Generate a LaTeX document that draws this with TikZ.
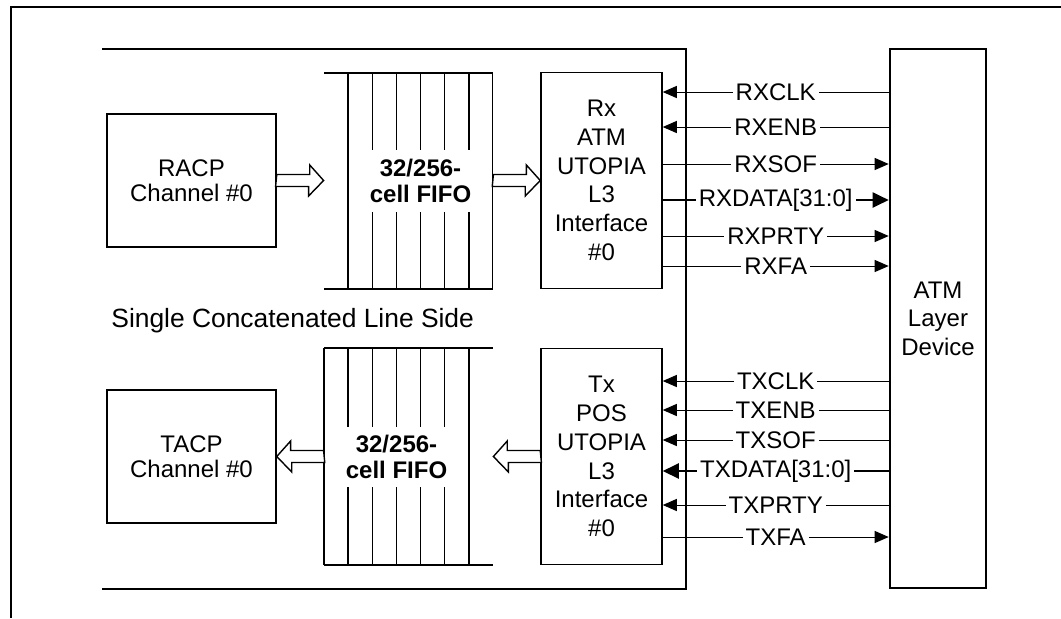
\documentclass[tikz,border=0pt]{standalone}
\usepackage{fontspec}
\setmainfont{Liberation Sans}
\usetikzlibrary{arrows.meta}

\tikzset{
  blk/.style={draw,line width=0.75pt,minimum width=84.5pt,minimum height=66.5pt,inner sep=0pt,align=center,font=\fontsize{12}{12.5}\selectfont},
  iface/.style={draw,line width=0.75pt,minimum width=60.5pt,minimum height=108pt,inner sep=0pt,align=center,font=\fontsize{12}{14.35}\selectfont},
  fifo/.style={minimum width=84.5pt,minimum height=108pt,inner sep=0pt},
  fifotxt/.style={inner sep=0pt,align=center,font=\bfseries\fontsize{12}{13.3}\selectfont},
  fifoline/.style={line width=0.7pt},
  blockarrow/.style={draw,fill=white,line width=0.7pt,line join=miter},
  sig/.style={line width=0.5pt,-{Triangle[length=7pt,width=6pt]}},
  bus/.style={line width=1pt,-{Triangle[length=8pt,width=7.5pt]}},
  lbl/.style={fill=white,inner sep=1.5pt,font=\fontsize{12}{14}\selectfont}
}

\begin{document}
\begin{tikzpicture}[x=0.5pt,y=-0.5pt,line cap=butt]
\useasboundingbox (0,0) rectangle (1061,618);
\draw[line width=1pt] (11,618) -- (11,7) -- (1061,7);
\draw[line width=1.3pt] (102,49) -- (686,49) -- (686,589) -- (102,589);

\node[blk] (racp) at (191.5,180.5) {RACP\\Channel \#0};
\node[blk] (tacp) at (191.5,456.5) {TACP\\Channel \#0};
\node[fifo] (fifoA) at (408.5,180.5) {};
\node[fifo] (fifoB) at (408.5,456.5) {};
\node[iface] (rxif) at (601.5,180.5) {Rx\\ATM\\UTOPIA\\L3\\Interface\\\#0};
\node[iface] (txif) at (601.5,456.5) {Tx\\POS\\UTOPIA\\L3\\Interface\\\#0};
\node[draw,line width=1.3pt,minimum width=48pt,minimum height=269.5pt,inner sep=0pt,align=center,font=\fontsize{12}{14.25}\selectfont] (atm) at (938,318.5) {ATM\\Layer\\Device};
\node[anchor=west,inner sep=0pt,font=\fontsize{13.2}{15}\selectfont] (side) at (111,321) {Single Concatenated Line Side};

% receive FIFO
\draw[fifoline] (324,73) -- (493,73) (324,289) -- (493,289);
\draw[fifoline] (348.1,73) -- (348.1,289) (492.7,73) -- (492.7,289);
\foreach \x in {372.3,396.4,420.6,444.7,468.9}
  \draw[fifoline] (\x,73) -- (\x,150) (\x,212) -- (\x,289);
\node[fifotxt] (fifoAtxt) at (420.5,181) {32/256-\\cell FIFO};

% transmit FIFO
\draw[fifoline] (324,348) -- (493,348) (324,565) -- (493,565);
\draw[fifoline] (324,348) -- (324,565) (468.9,348) -- (468.9,565);
\foreach \x in {348.1,372.3,396.4,420.6,444.7}
  \draw[fifoline] (\x,348) -- (\x,427) (\x,487) -- (\x,565);
\node[fifotxt] (fifoBtxt) at (396.5,457) {32/256-\\cell FIFO};

% block arrows
\draw[blockarrow] (racp.east) ++(0,-6) -- ++(33,0) -- ++(0,-9.5) -- (fifoA.west) -- ++(-15,15.5) -- ++(0,-9.5) -- ++(-33,0) -- cycle;
\draw[blockarrow] (fifoA.east) ++(0,-6) -- ++(33,0) -- ++(0,-9.5) -- (rxif.west) -- ++(-15,15.5) -- ++(0,-9.5) -- ++(-33,0) -- cycle;
\draw[blockarrow] (txif.west) ++(0,-6) -- ++(-33,0) -- ++(0,-9.5) -- (fifoB.east) -- ++(15,15.5) -- ++(0,-9.5) -- ++(33,0) -- cycle;
\draw[blockarrow] (fifoB.west) ++(0,-6) -- ++(-33,0) -- ++(0,-9.5) -- (tacp.east) -- ++(15,15.5) -- ++(0,-9.5) -- ++(33,0) -- cycle;

% receive signals
\draw[sig] (atm.west |- 0,92) -- (rxif.east |- 0,92) node[lbl,midway]{RXCLK};
\draw[sig] (atm.west |- 0,127) -- (rxif.east |- 0,127) node[lbl,midway]{RXENB};
\draw[sig] (rxif.east |- 0,164) -- (atm.west |- 0,164) node[lbl,midway]{RXSOF};
\draw[bus] (rxif.east |- 0,200) -- (atm.west |- 0,200) node[lbl,midway]{RXDATA[31:0]};
\draw[sig] (rxif.east |- 0,236) -- (atm.west |- 0,236) node[lbl,midway]{RXPRTY};
\draw[sig] (rxif.east |- 0,266) -- (atm.west |- 0,266) node[lbl,midway]{RXFA};

% transmit signals
\draw[sig] (atm.west |- 0,381) -- (txif.east |- 0,381) node[lbl,midway]{TXCLK};
\draw[sig] (atm.west |- 0,410) -- (txif.east |- 0,410) node[lbl,midway]{TXENB};
\draw[sig] (atm.west |- 0,440) -- (txif.east |- 0,440) node[lbl,midway]{TXSOF};
\draw[bus] (atm.west |- 0,471) -- (txif.east |- 0,471) node[lbl,midway]{TXDATA[31:0]};
\draw[sig] (atm.west |- 0,505) -- (txif.east |- 0,505) node[lbl,midway]{TXPRTY};
\draw[sig] (txif.east |- 0,537) -- (atm.west |- 0,537) node[lbl,midway]{TXFA};
\end{tikzpicture}
\end{document}
